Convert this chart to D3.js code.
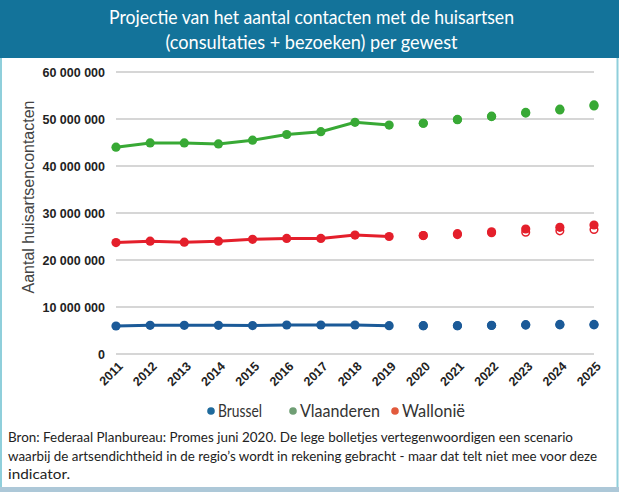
<!DOCTYPE html>
<html>
<head>
<meta charset="utf-8">
<script src="https://cdn.jsdelivr.net/npm/d3@7"></script>
<style>
  html, body { margin: 0; padding: 0; background: #fff; }
  svg { display: block; }
</style>
</head>
<body>
<svg id="chart" width="619" height="492"></svg>
<script>
// data (millions of contacts)
const years = ["2011","2012","2013","2014","2015","2016","2017","2018","2019",
               "2020","2021","2022","2023","2024","2025"];
const histYears = years.slice(0, 9);
const projYears = years.slice(9);

const brusselHist    = [5.96, 6.1, 6.1, 6.1, 6.05, 6.17, 6.17, 6.17, 6.03];
const vlaanderenHist = [44.0, 44.9, 44.9, 44.7, 45.5, 46.7, 47.3, 49.3, 48.7];
const wallonieHist   = [23.7, 24.0, 23.8, 24.0, 24.4, 24.6, 24.6, 25.3, 25.0];

const brusselProj    = [6.03, 6.03, 6.1, 6.24, 6.3, 6.3];
const vlaanderenProj = [49.1, 49.9, 50.6, 51.4, 52.1, 53.0];
const wallonieProj   = [25.2, 25.6, 26.0, 26.6, 26.95, 27.45];

// "lege bolletjes" scenario
const brusselAlt    = [6.0, 6.0, 6.05, 6.15, 6.2, 6.2];
const vlaanderenAlt = [49.1, 49.85, 50.5, 51.25, 51.9, 52.75];
const wallonieAlt   = [25.2, 25.4, 25.8, 25.9, 26.2, 26.5];

const yTicks = [0, 10, 20, 30, 40, 50, 60];
const seriesNames = ["Brussel", "Vlaanderen", "Wallonië"];

const series = [
  { name: "Brussel", hist: brusselHist, proj: brusselProj, alt: brusselAlt, color: "#1b5a98" },
  { name: "Vlaanderen", hist: vlaanderenHist, proj: vlaanderenProj, alt: vlaanderenAlt, color: "#38a935" },
  { name: "Wallonië", hist: wallonieHist, proj: wallonieProj, alt: wallonieAlt, color: "#e41f2b" }
];
const legendColors = ["#1f6a9c", "#6f9e74", "#e25a3c"];

const svg = d3.select("#chart");
const W = 619, H = 492;
const humanist = "Lato, 'Open Sans', sans-serif";

// frame
svg.append("rect").attr("x", 1).attr("y", 0).attr("width", W - 2.5).attr("height", H - 3)
  .attr("fill", "#fff").attr("stroke", "#8fcfdb").attr("stroke-width", 2);
svg.append("rect").attr("x", 0).attr("y", H - 5).attr("width", W).attr("height", 5).attr("fill", "#adc8d8");

// header
svg.append("rect").attr("x", 0).attr("y", 0).attr("width", W).attr("height", 58).attr("fill", "#13739a");
const titleLines = ["Projectie van het aantal contacten met de huisartsen", "(consultaties + bezoeken) per gewest"];
const titleWidths = [405, 292];
svg.append("g").selectAll("text").data(titleLines).enter().append("text")
  .attr("x", W / 2 + 2)
  .attr("y", (d, i) => 24 + i * 25)
  .attr("text-anchor", "middle")
  .attr("fill", "#fff")
  .attr("textLength", (d, i) => titleWidths[i])
  .attr("lengthAdjust", "spacingAndGlyphs")
  .style("font-family", humanist)
  .style("font-size", "20px")
  .text(d => d);

// scales
const x = d3.scalePoint().domain(years).range([116, 594]);
const y = d3.scaleLinear().domain([0, 60]).range([354, 72]);

// grid
svg.append("g").selectAll("line").data(yTicks).enter().append("line")
  .attr("x1", 116).attr("x2", 594)
  .attr("y1", d => y(d)).attr("y2", d => y(d))
  .attr("stroke", "#c8c8c8").attr("stroke-width", 1.3);

// y axis
const yAxis = svg.append("g")
  .attr("transform", "translate(116,0)")
  .call(d3.axisLeft(y).tickValues(yTicks).tickSize(0).tickPadding(11)
    .tickFormat(d => d === 0 ? "0" : d3.format(",")(d * 1e6).replace(/,/g, " ")));
yAxis.select(".domain").remove();
yAxis.selectAll("text")
  .style("font-family", "'Liberation Sans', Arial, sans-serif")
  .style("font-size", "12.5px").style("font-weight", "bold").attr("fill", "#222");

// x axis
const xAxis = svg.append("g")
  .attr("transform", "translate(0,354)")
  .call(d3.axisBottom(x).tickSize(0).tickPadding(0));
xAxis.select(".domain").remove();
xAxis.selectAll("text")
  .attr("transform", "translate(4,10) rotate(-45)")
  .attr("dy", "0.35em")
  .style("text-anchor", "end")
  .style("font-family", "'Liberation Sans', Arial, sans-serif")
  .style("font-size", "12.5px").style("font-weight", "bold").attr("fill", "#222");

// y label
svg.append("text")
  .attr("transform", "translate(34,197) rotate(-90)")
  .attr("text-anchor", "middle")
  .attr("fill", "#444")
  .style("font-family", "'Liberation Sans', Arial, sans-serif")
  .style("font-size", "16px")
  .text("Aantal huisartsencontacten");

// lines and dots
const line = d3.line().x(d => x(d.year)).y(d => y(d.value));
series.forEach(s => {
  const hist = histYears.map((yr, i) => ({ year: yr, value: s.hist[i] }));
  const proj = projYears.map((yr, i) => ({ year: yr, value: s.proj[i] }));
  const alt = projYears.map((yr, i) => ({ year: yr, value: s.alt[i] }));
  const g = svg.append("g");
  g.append("path").datum(hist)
    .attr("d", line).attr("fill", "none").attr("stroke", s.color).attr("stroke-width", 3);
  g.selectAll(".alt").data(alt).enter().append("circle")
    .attr("cx", d => x(d.year)).attr("cy", d => y(d.value)).attr("r", 3.8)
    .attr("fill", "#fff").attr("stroke", s.color).attr("stroke-width", 1.5);
  g.selectAll(".dot").data(hist.concat(proj)).enter().append("circle")
    .attr("cx", d => x(d.year)).attr("cy", d => y(d.value)).attr("r", 4.6)
    .attr("fill", s.color);
});

// legend
const legendX = [211, 293, 395];
const legendWidths = [44, 80, 63];
const lg = svg.append("g").selectAll("g").data(seriesNames).enter().append("g")
  .attr("transform", (d, i) => `translate(${legendX[i]},411)`);
lg.append("circle").attr("r", 3.8).attr("fill", (d, i) => legendColors[i]);
lg.append("text").attr("x", 7).attr("dy", "0.36em")
  .attr("fill", "#333")
  .attr("textLength", (d, i) => legendWidths[i])
  .attr("lengthAdjust", "spacingAndGlyphs")
  .style("font-family", humanist)
  .style("font-size", "17px")
  .text(d => d);

// source note
const noteLines = [
  "Bron: Federaal Planbureau: Promes juni 2020. De lege bolletjes vertegenwoordigen een scenario",
  "waarbij de artsendichtheid in de regio’s wordt in rekening gebracht - maar dat telt niet mee voor deze",
  "indicator."
];
const noteWidths = [565, 589, 62];
svg.append("g").selectAll("text").data(noteLines).enter().append("text")
  .attr("x", 8)
  .attr("y", (d, i) => 442 + i * 18.5)
  .attr("fill", "#222")
  .attr("textLength", (d, i) => noteWidths[i])
  .attr("lengthAdjust", "spacingAndGlyphs")
  .style("font-family", humanist)
  .style("font-size", "13.8px")
  .text(d => d);
</script>
</body>
</html>
